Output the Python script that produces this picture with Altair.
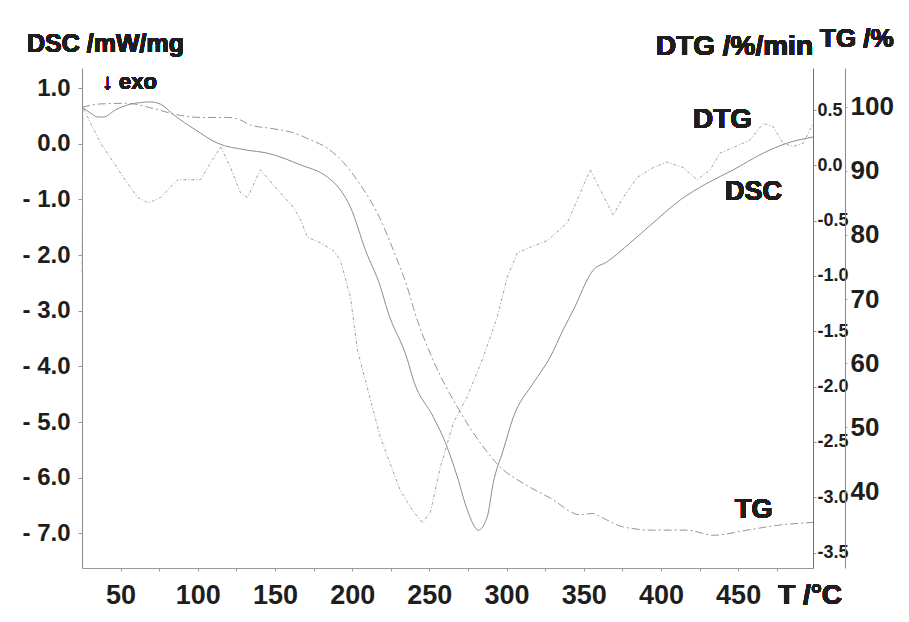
import altair as alt
import pandas as pd

# ---- data (T in °C) ----
dsc_T = [25.0, 30.6, 35.1, 39.0, 46.8, 56.5, 69.4, 75.9, 84.3, 98.5, 112.8, 130.9, 145.1,
         166.5, 184.0, 192.4, 198.9, 208.6, 218.3, 222.8, 235.8, 239.6, 252.6, 260.4, 268.1,
         274.6, 281.7, 287.5, 291.4, 297.9, 304.4, 317.3, 328.3, 336.7, 343.2, 356.1, 365.2,
         380.1, 395.0, 412.5, 429.9, 446.8, 466.2, 481.7, 498.5]
dsc_v = [0.66, 0.55, 0.48, 0.48, 0.61, 0.71, 0.75, 0.71, 0.52, 0.25, 0.01, -0.11, -0.17,
         -0.38, -0.60, -0.83, -1.14, -1.91, -2.57, -2.99, -3.88, -4.24, -4.91, -5.37, -5.98,
         -6.58, -6.94, -6.70, -6.09, -5.50, -4.91, -4.30, -3.83, -3.34, -2.99, -2.27, -2.12,
         -1.78, -1.42, -1.01, -0.71, -0.47, -0.17, 0.01, 0.12]

dtg_T = [25.0, 25.6, 30.6, 37.1, 51.9, 61.0, 68.1, 75.9, 86.9, 101.8, 106.3, 112.8, 114.7,
         121.2, 127.7, 132.2, 140.6, 151.6, 162.0, 166.5, 171.0, 179.4, 187.9, 192.4, 198.9,
         203.4, 218.3, 231.2, 239.6, 245.5, 250.6, 257.1, 265.5, 274.6, 285.0, 294.0, 300.5,
         307.0, 315.4, 326.4, 339.3, 345.8, 354.2, 360.7, 369.1, 375.6, 384.6, 395.0, 404.0,
         414.4, 423.5, 431.9, 438.3, 446.8, 457.8, 466.2, 472.7, 479.1, 485.6, 492.1, 496.6,
         498.5]
dtg_v = [-0.97, 0.53, 0.38, 0.20, -0.11, -0.29, -0.34, -0.29, -0.13, -0.13, -0.02, 0.12, 0.17,
         -0.02, -0.25, -0.29, -0.04, -0.22, -0.38, -0.49, -0.65, -0.70, -0.77, -0.86, -1.19,
         -1.67, -2.46, -2.94, -3.13, -3.23, -3.14, -2.73, -2.33, -2.09, -1.73, -1.37, -1.01,
         -0.79, -0.74, -0.68, -0.52, -0.31, -0.04, -0.22, -0.45, -0.29, -0.11, -0.02, 0.03,
         -0.02, -0.13, -0.04, 0.11, 0.16, 0.23, 0.38, 0.35, 0.20, 0.17, 0.20, 0.32,
         0.38]

tg_T = [25.0, 37.1, 54.5, 69.4, 86.9, 101.8, 119.3, 127.7, 134.1, 147.1, 162.0, 173.0, 184.0,
        194.3, 205.3, 216.3, 226.7, 237.7, 239.6, 252.6, 268.1, 283.0, 296.0, 310.8, 328.3,
        347.7, 356.1, 360.7, 375.6, 395.0, 417.0, 433.8, 455.8, 477.2, 498.5]
tg_v = [99.9, 100.4, 100.5, 99.8, 98.7, 98.3, 98.3, 97.9, 97.1, 96.6, 95.9, 94.8, 93.5,
        91.3, 87.8, 83.4, 77.6, 70.3, 68.7, 60.4, 53.2, 47.6, 43.8, 41.3, 39.0,
        36.4, 36.6, 36.1, 34.5, 34.0, 34.0, 33.2, 34.0, 34.8, 35.2]

x_ticks = [50, 75, 100, 125, 150, 175, 200, 225, 250, 275, 300, 325, 350, 375, 400, 425, 450, 475]
dsc_ticks = [1.0, 0.0, -1.0, -2.0, -3.0, -4.0, -5.0, -6.0, -7.0]
dtg_ticks = [0.5, 0.0, -0.5, -1.0, -1.5, -2.0, -2.5, -3.0, -3.5]
tg_ticks = [100, 90, 80, 70, 60, 50, 40]

FONT = "Liberation Sans"
TXT = "#1e1e1e"

dsc_df = pd.DataFrame({"T": dsc_T, "v": dsc_v})
dtg_df = pd.DataFrame({"T": dtg_T, "v": dtg_v})
tg_df = pd.DataFrame({"T": tg_T, "v": tg_v})

xscale = alt.Scale(domain=[25, 498.5], nice=False, zero=False)
xaxis = alt.Axis(
    title=None, values=x_ticks, grid=False,
    labelExpr="datum.value % 50 == 0 ? datum.label : ''",
    labelFont=FONT, labelFontWeight="bold", labelFontSize=27, labelColor=TXT,
    labelPadding=11, tickSize=3, tickColor="#999", domainColor="#999",
    labelFlush=False, labelOverlap=False,
)

dsc = alt.Chart(dsc_df).mark_line(color="#8c8c8c", strokeWidth=1.0, interpolate="monotone").encode(
    x=alt.X("T:Q", scale=xscale, axis=xaxis),
    y=alt.Y("v:Q", scale=alt.Scale(domain=[-7.62, 1.36], nice=False, zero=False),
            axis=alt.Axis(orient="left", title=None, values=dsc_ticks, grid=False,
                          labelExpr="datum.value < 0 ? '- ' + format(abs(datum.value), '.1f') : format(datum.value, '.1f')",
                          labelFont=FONT, labelFontWeight="bold", labelFontSize=24, labelColor=TXT,
                          labelPadding=8, tickSize=4, tickColor="#999", domainColor="#8a8a8a",
                          labelOverlap=False, labelFlush=False)),
)

dtg = alt.Chart(dtg_df).mark_line(color="#a3a3a3", strokeWidth=1.0, strokeDash=[3, 2, 1, 2]).encode(
    x=alt.X("T:Q", scale=xscale, axis=xaxis),
    y=alt.Y("v:Q", scale=alt.Scale(domain=[-3.64, 0.88], nice=False, zero=False),
            axis=alt.Axis(orient="right", title=None, values=dtg_ticks, grid=False,
                          labelExpr="(datum.value < 0 ? '-' : '') + format(abs(datum.value), '.1f')",
                          labelFont=FONT, labelFontWeight="bold", labelFontSize=18, labelColor=TXT,
                          labelPadding=1, tickSize=3, tickColor="#999", domainColor="#6f6f6f",
                          labelOverlap=False, labelFlush=False)),
)

tg = alt.Chart(tg_df).mark_line(color="#959595", strokeWidth=1.0, strokeDash=[8, 3, 2, 3],
                                interpolate="monotone").encode(
    x=alt.X("T:Q", scale=xscale, axis=xaxis),
    y=alt.Y("v:Q", scale=alt.Scale(domain=[28.1, 106.0], nice=False, zero=False),
            axis=alt.Axis(orient="right", offset=32, title=None, values=tg_ticks, grid=False,
                          labelFont=FONT, labelFontWeight="bold", labelFontSize=26, labelColor=TXT,
                          labelPadding=3, tickSize=2, tickColor="#aaa", domainColor="#8a8a8a",
                          labelOverlap=False, labelFlush=False)),
)


def label(txt, x, y, size, align="left"):
    return alt.Chart(dsc_df).mark_text(
        text=txt, font=FONT, fontWeight="bold", fontSize=size, color=TXT,
        align=align, baseline="alphabetic",
    ).encode(x=alt.value(x), y=alt.value(y))


texts = [
    label("DSC /mW/mg", -55, -16, 25),
    label("\u2193 exo", 20, 21, 22),
    label("DTG /%/min", 731, -13, 28, "right"),
    label("TG /%", 738, -21, 26),
    label("DTG", 611, 60, 28),
    label("DSC", 643, 132, 27),
    label("TG", 653, 450, 27),
    label("T /\u00b0C", 696, 536, 28),
]

chart = alt.layer(dsc, dtg, tg, *texts).resolve_scale(y="independent").resolve_axis(
    y="independent"
).properties(
    width=731, height=500,
    autosize=alt.AutoSizeParams(type="none"),
    padding={"left": 74, "top": 60, "right": 86, "bottom": 45},
    background="white",
).configure_view(stroke=None)

chart.save("out.html", embed_options={"renderer": "svg", "actions": False})
